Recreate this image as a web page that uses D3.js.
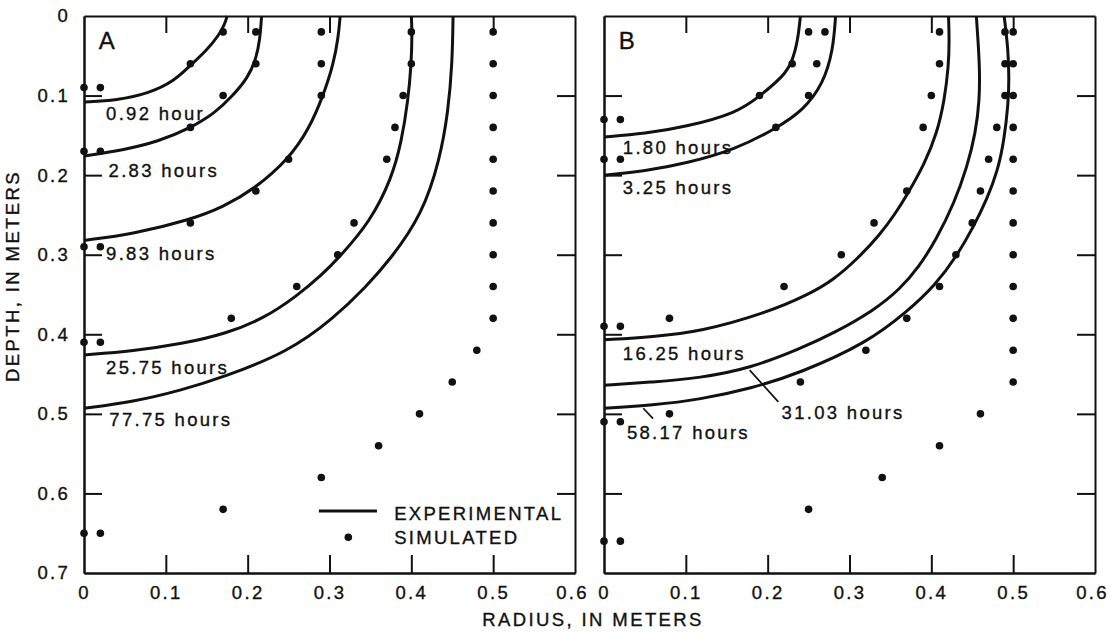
<!DOCTYPE html>
<html>
<head>
<meta charset="utf-8">
<script src="https://cdn.jsdelivr.net/npm/d3@7"></script>
<style>
  body { margin: 0; background: #fff; }
  svg text { font-family: "Liberation Sans", Arial, sans-serif; fill: #111; stroke: #111; stroke-width: 0.35px; }
</style>
</head>
<body>
<svg id="chart" width="1110" height="632"></svg>
<script>
// axes, in meters
var radiusTicks = [0, 0.1, 0.2, 0.3, 0.4, 0.5, 0.6];
var depthTicks = [0, 0.1, 0.2, 0.3, 0.4, 0.5, 0.6, 0.7];
var innerX = [0.1, 0.2, 0.3, 0.4, 0.5];
var innerY = [0.1, 0.2, 0.3, 0.4, 0.5, 0.6];

// panel A: experimental fronts, [radius, depth]
var hoursA = ["0.92 hour", "2.83 hours", "9.83 hours", "25.75 hours", "77.75 hours"];
var curvesA = [
  [[0,0.108],[0.04,0.106],[0.08,0.097],[0.11,0.082],[0.13,0.062],[0.15,0.043],[0.165,0.024],[0.172,0.01],[0.175,0]],
  [[0,0.176],[0.05,0.168],[0.09,0.158],[0.13,0.141],[0.16,0.122],[0.182,0.10],[0.2,0.078],[0.21,0.055],[0.215,0.03],[0.217,0]],
  [[0,0.282],[0.06,0.274],[0.13,0.256],[0.17,0.24],[0.209,0.217],[0.25,0.18],[0.275,0.142],[0.292,0.101],[0.305,0.06],[0.311,0.025],[0.313,0]],
  [[0,0.426],[0.06,0.421],[0.12,0.412],[0.174,0.399],[0.22,0.38],[0.26,0.352],[0.29,0.326],[0.313,0.302],[0.35,0.258],[0.376,0.204],[0.388,0.158],[0.396,0.106],[0.40,0.06],[0.401,0.02],[0.40,0]],
  [[0,0.493],[0.06,0.485],[0.12,0.47],[0.17,0.454],[0.25,0.422],[0.305,0.38],[0.345,0.34],[0.375,0.305],[0.413,0.25],[0.435,0.18],[0.445,0.12],[0.45,0.06],[0.451,0]]
];
// panel A: simulated points
var simA = [
  [0,0.09],[0.02,0.09],[0.13,0.06],[0.17,0.02],[0.17,0.10],
  [0,0.17],[0.02,0.17],[0.13,0.14],[0.21,0.02],[0.21,0.06],
  [0,0.29],[0.02,0.29],[0.13,0.26],[0.21,0.22],[0.25,0.18],[0.29,0.02],[0.29,0.06],[0.29,0.10],
  [0,0.41],[0.02,0.41],[0.18,0.38],[0.26,0.34],[0.31,0.30],[0.33,0.26],[0.37,0.18],[0.38,0.14],[0.39,0.10],[0.40,0.06],[0.40,0.02],
  [0,0.65],[0.02,0.65],[0.17,0.62],[0.29,0.58],[0.36,0.54],[0.41,0.50],[0.45,0.46],[0.48,0.42],
  [0.50,0.38],[0.50,0.34],[0.50,0.30],[0.50,0.26],[0.50,0.22],[0.50,0.18],[0.50,0.14],[0.50,0.10],[0.50,0.06],[0.50,0.02]
];

// panel B
var hoursB = ["1.80 hours", "3.25 hours", "16.25 hours", "31.03 hours", "58.17 hours"];
var curvesB = [
  [[0,0.152],[0.05,0.148],[0.101,0.139],[0.162,0.122],[0.19,0.101],[0.219,0.076],[0.23,0.058],[0.237,0.03],[0.24,0]],
  [[0,0.20],[0.05,0.195],[0.101,0.185],[0.16,0.168],[0.211,0.141],[0.244,0.118],[0.268,0.085],[0.28,0.043],[0.283,0]],
  [[0,0.407],[0.06,0.403],[0.117,0.397],[0.199,0.373],[0.25,0.35],[0.28,0.332],[0.31,0.305],[0.337,0.275],[0.355,0.25],[0.372,0.222],[0.392,0.185],[0.407,0.147],[0.416,0.106],[0.421,0.064],[0.422,0.03],[0.421,0]],
  [[0,0.464],[0.06,0.46],[0.117,0.455],[0.178,0.443],[0.24,0.418],[0.28,0.399],[0.33,0.37],[0.362,0.343],[0.385,0.315],[0.406,0.281],[0.428,0.235],[0.444,0.189],[0.454,0.147],[0.459,0.106],[0.459,0.064],[0.457,0.03],[0.455,0]],
  [[0,0.493],[0.06,0.489],[0.117,0.482],[0.18,0.468],[0.239,0.449],[0.321,0.411],[0.37,0.372],[0.405,0.338],[0.431,0.302],[0.452,0.264],[0.468,0.23],[0.481,0.195],[0.489,0.156],[0.494,0.11],[0.495,0.08],[0.494,0.043],[0.489,0]]
];
var simB = [
  [0,0.13],[0.02,0.13],[0.19,0.10],[0.23,0.06],[0.25,0.02],
  [0,0.18],[0.02,0.18],[0.21,0.14],[0.25,0.10],[0.26,0.06],[0.27,0.02],
  [0,0.39],[0.02,0.39],[0.08,0.38],[0.22,0.34],[0.29,0.30],[0.33,0.26],[0.37,0.22],[0.39,0.14],[0.40,0.10],[0.41,0.06],[0.41,0.02],
  [0,0.51],[0.02,0.51],[0.08,0.50],[0.24,0.46],[0.32,0.42],[0.37,0.38],[0.41,0.34],[0.43,0.30],[0.45,0.26],[0.46,0.22],[0.47,0.18],[0.48,0.14],[0.49,0.10],[0.49,0.06],[0.49,0.02],
  [0,0.66],[0.02,0.66],[0.25,0.62],[0.34,0.58],[0.41,0.54],[0.46,0.50],
  [0.50,0.46],[0.50,0.42],[0.50,0.38],[0.50,0.34],[0.50,0.30],[0.50,0.26],[0.50,0.22],[0.50,0.18],[0.50,0.14],[0.50,0.10],[0.50,0.06],[0.50,0.02]
];

// where the time labels sit (data units, text start / baseline)
var labelAtA = [[0.027,0.131],[0.030,0.202],[0.027,0.307],[0.027,0.450],[0.031,0.515]];
var labelAtB = [[0.023,0.173],[0.023,0.224],[0.023,0.432],[0.217,0.507],[0.028,0.531]];
var leadersB = [ [[0.178,0.445],[0.213,0.485]], [[0.048,0.493],[0.060,0.506]] ];

var svg = d3.select("#chart");
var ink = "#111";
var y = d3.scaleLinear().domain([0, 0.7]).range([16, 573]);
var xA = d3.scaleLinear().domain([0, 0.6]).range([84, 575]);
var xB = d3.scaleLinear().domain([0, 0.6]).range([604, 1095]);

function styleAxis(g) {
  g.attr("font-family", null).attr("font-size", null);
  g.select(".domain").attr("stroke", ink).attr("stroke-width", 2);
  g.selectAll(".tick line").attr("stroke", ink).attr("stroke-width", 2);
  g.selectAll("text").style("font-size", "18.5px").style("letter-spacing", "2.3px").attr("fill", ink);
}

function panel(x, curves, sims, hours, labelAt, leaders, letter, yLabels) {
  var g = svg.append("g");
  var x0 = x.range()[0], x1 = x.range()[1];

  var bottom = g.append("g").attr("transform", "translate(0,573)")
    .call(d3.axisBottom(x).tickValues(radiusTicks).tickSizeInner(0).tickSizeOuter(0).tickPadding(13).tickFormat(d3.format("")))
    .call(styleAxis);
  // keep the last label inside the page
  bottom.selectAll(".tick text").filter(function(d) { return d === 0.6; }).attr("dx", "-3");

  g.append("g").attr("transform", "translate(0,573)")
    .call(d3.axisBottom(x).tickValues(innerX).tickSizeInner(-18).tickSizeOuter(0).tickFormat(""))
    .call(styleAxis);
  g.append("g").attr("transform", "translate(0,16)")
    .call(d3.axisTop(x).tickValues(innerX).tickSizeInner(-17).tickSizeOuter(0).tickFormat(""))
    .call(styleAxis);
  g.append("g").attr("transform", "translate(" + x0 + ",0)")
    .call(d3.axisLeft(y).tickValues(yLabels ? depthTicks : []).tickSizeInner(0).tickSizeOuter(0).tickPadding(14).tickFormat(d3.format("")))
    .call(styleAxis);
  g.append("g").attr("transform", "translate(" + x0 + ",0)")
    .call(d3.axisLeft(y).tickValues(innerY).tickSizeInner(-18).tickSizeOuter(0).tickFormat(""))
    .call(styleAxis);
  g.append("g").attr("transform", "translate(" + x1 + ",0)")
    .call(d3.axisRight(y).tickValues(innerY).tickSizeInner(-18).tickSizeOuter(0).tickFormat(""))
    .call(styleAxis);

  var line = d3.line()
    .x(function(d) { return x(d[0]); })
    .y(function(d) { return y(d[1]); })
    .curve(d3.curveBasis);

  g.selectAll("path.front").data(curves).enter().append("path")
    .attr("class", "front")
    .attr("d", line)
    .attr("fill", "none").attr("stroke", ink).attr("stroke-width", 3);

  g.selectAll("path.leader").data(leaders).enter().append("path")
    .attr("class", "leader")
    .attr("d", d3.line().x(function(d) { return x(d[0]); }).y(function(d) { return y(d[1]); }))
    .attr("stroke", ink).attr("stroke-width", 1.7);

  g.selectAll("circle").data(sims).enter().append("circle")
    .attr("cx", function(d) { return x(d[0]); })
    .attr("cy", function(d) { return y(d[1]); })
    .attr("r", 3.8).attr("fill", ink);

  g.selectAll("text.hours").data(hours).enter().append("text")
    .attr("class", "hours")
    .attr("x", function(d, i) { return x(labelAt[i][0]); })
    .attr("y", function(d, i) { return y(labelAt[i][1]); })
    .style("font-size", "18.5px").style("letter-spacing", "2.3px")
    .text(function(d) { return d; });

  g.append("text")
    .attr("x", x(0.018)).attr("y", y(0.042))
    .style("font-size", "24px")
    .text(letter);
  return g;
}

var gA = panel(xA, curvesA, simA, hoursA, labelAtA, [], "A", true);
panel(xB, curvesB, simB, hoursB, labelAtB, leadersB, "B", false);

// legend inside panel A
gA.append("line")
  .attr("x1", xA(0.287)).attr("x2", xA(0.358))
  .attr("y1", y(0.622)).attr("y2", y(0.622))
  .attr("stroke", ink).attr("stroke-width", 3);
gA.append("circle").attr("cx", xA(0.323)).attr("cy", y(0.655)).attr("r", 3.8).attr("fill", ink);
gA.append("text").attr("x", xA(0.379)).attr("y", y(0.633))
  .style("font-size", "18.5px").style("letter-spacing", "2.3px").text("EXPERIMENTAL");
gA.append("text").attr("x", xA(0.379)).attr("y", y(0.664))
  .style("font-size", "18.5px").style("letter-spacing", "2.3px").text("SIMULATED");

// axis titles
svg.append("text")
  .attr("x", 593).attr("y", 626)
  .attr("text-anchor", "middle")
  .style("font-size", "18.5px").style("letter-spacing", "2.4px")
  .text("RADIUS, IN METERS");
svg.append("text")
  .attr("transform", "translate(19,276) rotate(-90)")
  .attr("text-anchor", "middle")
  .style("font-size", "18.5px").style("letter-spacing", "2.4px")
  .text("DEPTH, IN METERS");
</script>
</body>
</html>
